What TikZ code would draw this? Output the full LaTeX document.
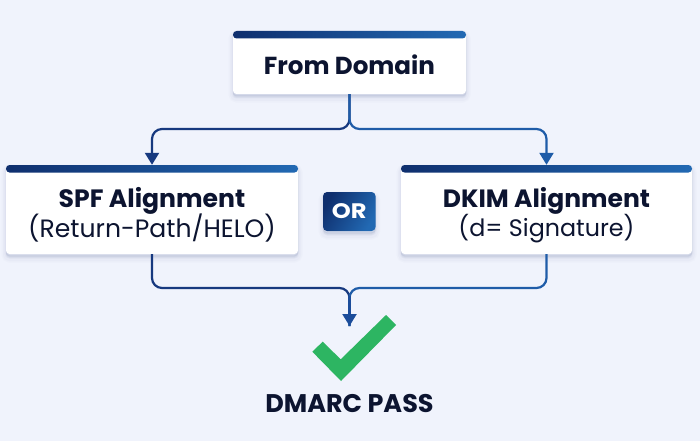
\documentclass[tikz,border=0pt]{standalone}
\usepackage{fontspec}
\setmainfont{Poppins}
\usetikzlibrary{arrows.meta,calc}
\definecolor{bgc}{HTML}{F0F3FC}
\definecolor{ink}{HTML}{0C1430}
\definecolor{navy}{HTML}{0F2F6E}
\definecolor{steel}{HTML}{2269B3}
\definecolor{linedark}{HTML}{17397F}
\definecolor{linemid}{HTML}{1B4C9A}
\definecolor{lineblue}{HTML}{1F5CA8}
\definecolor{okgreen}{HTML}{2DB562}
\definecolor{shadowc}{HTML}{5A6A9A}
\newcommand{\cardtext}[2]{\raisebox{#1}[\height][\depth]{\begin{tabular}{@{}c@{}}#2\end{tabular}}}
\tikzset{
  softshadow/.style={
    preaction={draw=shadowc,fill=shadowc,line width=9pt,opacity=.025,transform canvas={yshift=-4pt}},
    preaction={draw=shadowc,fill=shadowc,line width=6pt,opacity=.03,transform canvas={yshift=-4pt}},
    preaction={draw=shadowc,fill=shadowc,line width=3pt,opacity=.04,transform canvas={yshift=-3pt}},
    preaction={draw=shadowc,fill=shadowc,line width=1pt,opacity=.06,transform canvas={yshift=-2pt}}},
  card/.style={rectangle,rounded corners=3.5pt,softshadow,fill=white,text=ink,inner sep=0pt,
    path picture={\shade[left color=navy,right color=steel]
      (path picture bounding box.north west) rectangle
      ($(path picture bounding box.north east)+(0,7.5)$);}},
  conn/.style={line width=2.2pt,rounded corners=10pt},
  tipped/.style={-{Triangle[length=12pt,width=14pt]}},
}
\begin{document}
\begin{tikzpicture}[x=1pt,y=-1pt]
\useasboundingbox (0,0) rectangle (700,441);
\fill[bgc] (0,0) rectangle (700,441);
% connector junctions
\coordinate (jtop) at (349.5,129);
\coordinate (jbot) at (349.5,288);
\coordinate (passin) at (349.5,326);
% nodes
\node[card,minimum width=233pt,minimum height=63pt] (from) at (349.5,62.5)
  {\cardtext{-3.5pt}{\fontsize{24.6}{30}\selectfont\bfseries From Domain}};
\node[card,minimum width=292pt,minimum height=89pt] (spf) at (152,209.5)
  {\cardtext{-5.5pt}{\fontsize{25.1}{31}\selectfont\bfseries SPF Alignment\\ \fontsize{25.1}{31}\selectfont (Return-Path/HELO)}};
\node[card,minimum width=291pt,minimum height=89pt] (dkim) at (546.5,209.5)
  {\cardtext{-5.5pt}{\fontsize{25}{31}\selectfont\bfseries DKIM Alignment\\ \fontsize{23.8}{31}\selectfont (d= Signature)}};
\node[rectangle,rounded corners=4pt,softshadow,left color=navy,right color=steel,shading angle=60,
  minimum width=52.5pt,minimum height=39pt,inner sep=0pt,text=white] (or) at (349.3,211.5)
  {\fontspec{Poppins}[FakeStretch=1.15]\fontsize{21}{24}\selectfont\bfseries OR};
\node[text=ink,inner sep=0pt,font=\fontsize{25.5}{30}\selectfont\bfseries] (pass) at (349.5,403.5) {DMARC PASS};
% check mark
\fill[okgreen] (386,315) -- (396,325) -- (341,381) -- (312.3,351.7) -- (322.7,341.7) -- (340.7,359.3) -- cycle;
% connectors
\draw[conn,tipped,linedark] (from.south) -- (jtop) -- (jtop -| spf.north) -- (spf.north);
\draw[conn,tipped,lineblue] (from.south) -- (jtop) -- (jtop -| dkim.north) -- (dkim.north);
\draw[conn,linedark] (spf.south) -- (jbot -| spf.south) -- (jbot) -- (passin);
\draw[conn,lineblue] (dkim.south) -- (jbot -| dkim.south) -- (jbot) -- (passin);
\draw[conn,tipped,linemid] ($(jbot)+(0,8)$) -- (passin);
\end{tikzpicture}
\end{document}
